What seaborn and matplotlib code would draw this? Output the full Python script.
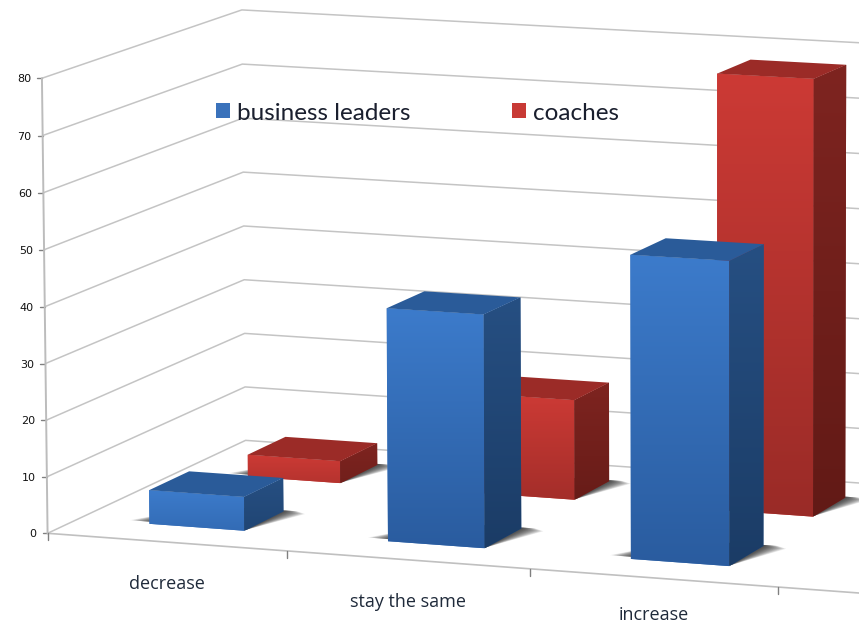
import numpy as np
import matplotlib
matplotlib.use("Agg")
import matplotlib.pyplot as plt
import matplotlib.transforms as mtransforms
from matplotlib.colors import to_rgb
from matplotlib.patches import Polygon
from matplotlib.path import Path
import seaborn as sns

categories = ["decrease", "stay the same", "increase"]
business_leaders = [6, 41, 53]
coaches = [4, 18, 78]
value_ticks = [0, 10, 20, 30, 40, 50, 60, 70, 80]

W, H = 859, 627
BAR_W = 0.4
X_END = 3.5

# camera anchors: (category pos, value, depth) -> picture pixel
anchors_world = [(0, 0, 0), (0, 80, 0), (0, 0, 1), (0, 80, 1), (1, 0, 0),
                 (2, 0, 0), (3, 0, 0), (3, 0, 1), (3, 80, 1), (3, 80, 0)]
anchors_pixel = [(48, 533), (41, 78), (245, 441), (243, 10), (287, 551),
                 (529, 568), (779, 587), (940, 489), (941, 46), (779, 121)]

# depth range per series
z_blue = (0.15, 0.35)
z_red = (0.65, 0.85)

blue = dict(base="#3a72bb", top="#3c7bcb", bottom="#2a5c9f", side_top="#264f82", side_bottom="#1b3c66", cap="#2a5b99")
red = dict(base="#c83a35", top="#cc3a35", bottom="#9a2b27", side_top="#7e2420", side_bottom="#621a16", cap="#9b2b27")


def fit_camera(world, pixel):
    A, b = [], []
    for (x, y, z), (u, v) in zip(world, pixel):
        y = y / 80
        A.append([x, y, z, 1, 0, 0, 0, 0, -u * x, -u * y, -u * z])
        b.append(u)
        A.append([0, 0, 0, 0, x, y, z, 1, -v * x, -v * y, -v * z])
        b.append(v)
    sol = np.linalg.lstsq(np.array(A, float), np.array(b, float), rcond=None)[0]
    return np.append(sol, 1).reshape(3, 4)


cam = fit_camera(anchors_world, anchors_pixel)


def project(x, y, z):
    x, y, z = np.broadcast_arrays(np.asarray(x, float), np.asarray(y, float), np.asarray(z, float))
    pts = np.stack([x, y / 80, z, np.ones_like(x)])
    h = cam @ pts.reshape(4, -1)
    return np.column_stack([h[0] / h[2], h[1] / h[2]])


class PlaneProjection(mtransforms.Transform):
    # sends (bar x, value) of a seaborn bar onto its depth plane
    input_dims = 2
    output_dims = 2
    is_separable = False
    has_inverse = False

    def __init__(self, z):
        super().__init__()
        self.z = z

    def transform_non_affine(self, values):
        values = np.asarray(values, float)
        return project(values[:, 0] + 0.5, values[:, 1], self.z)

    def transform_path_non_affine(self, path):
        return Path(self.transform_non_affine(path.vertices), path.codes)


def gradient(ax, pts, clip_path, clip_trans, c_top, c_bottom, zorder):
    c_top, c_bottom = np.array(to_rgb(c_top)), np.array(to_rgb(c_bottom))
    t = np.linspace(0, 1, 64)[:, None, None]
    img = c_top[None, None, :] * (1 - t) + c_bottom[None, None, :] * t
    ext = (pts[:, 0].min(), pts[:, 0].max(), pts[:, 1].max(), pts[:, 1].min())
    im = ax.imshow(img, extent=ext, aspect="auto", interpolation="bilinear", zorder=zorder)
    im.set_clip_path(clip_path, clip_trans)


def draw_bars(ax, container, zr, style, zbase):
    z0, z1 = zr
    for patch in container:
        x0 = patch.get_x() + 0.5
        x1 = x0 + patch.get_width()
        val = patch.get_height()
        # soft floor shadow, peeks out left of the front and right of the side
        for g in np.linspace(0.1, 0.008, 14):
            floor = project([x0 - g, x1, x1 + g, x1 + g * 0.5, x0, x0], 0,
                            [z0 + 0.02, z0 + 0.01, z1 - 0.01, z1 + 0.01, z1, z0 + 0.12])
            ax.add_patch(Polygon(floor, fc="#000000", ec="none", alpha=0.075, zorder=2))
        mix = min(1.0, 0.35 + val / 40)
        c_low = tuple(np.array(to_rgb(style["top"])) * (1 - mix) + np.array(to_rgb(style["bottom"])) * mix)
        s_low = tuple(np.array(to_rgb(style["side_top"])) * (1 - mix) + np.array(to_rgb(style["side_bottom"])) * mix)
        # front face is the seaborn bar itself
        patch.set_transform(PlaneProjection(z0) + ax.transData)
        patch.set_zorder(zbase)
        patch.set_linewidth(0)
        front = project([x0, x1, x1, x0], [val, val, 0, 0], z0)
        gradient(ax, front, patch.get_path(), patch.get_transform(), style["top"], c_low, zbase + 0.1)
        side = project([x1, x1, x1, x1], [val, val, 0, 0], [z0, z1, z1, z0])
        side_poly = Polygon(side, fc=style["side_top"], ec="none", zorder=zbase + 0.2)
        ax.add_patch(side_poly)
        gradient(ax, side, side_poly.get_path(), side_poly.get_transform(), style["side_top"], s_low, zbase + 0.3)
        cap = project([x0, x1, x1, x0], val, [z0, z0, z1, z1])
        ax.add_patch(Polygon(cap, fc=style["cap"], ec="none", zorder=zbase + 0.4))


sns.set_theme(style="white")
plt.rcParams["font.family"] = ["Lato", "DejaVu Sans"]

fig = plt.figure(figsize=(W / 100, H / 100), dpi=100)
ax = fig.add_axes([0, 0, 1, 1])

sns.barplot(x=categories, y=business_leaders, color=blue["base"], saturation=1, width=BAR_W,
            label="business leaders", ax=ax)
sns.barplot(x=categories, y=coaches, color=red["base"], saturation=1, width=BAR_W,
            label="coaches", ax=ax)

draw_bars(ax, ax.containers[1], z_red, red, 3)
draw_bars(ax, ax.containers[0], z_blue, blue, 5)

# walls and floor grid
for t in value_ticks:
    line = project([0, 0, X_END], t, [0, 1, 1])
    ax.plot(line[:, 0], line[:, 1], color="#c4c4c4", lw=1.1, zorder=1)
    tick = project(0, t, 0)[0]
    ax.plot([tick[0] - 5, tick[0]], [tick[1], tick[1]], color="#808080", lw=1, zorder=1)
    ax.text(tick[0] - 11, tick[1] + 1, str(t), ha="right", va="center", fontsize=8,
            color="#111111", family="DejaVu Sans")

axis_y = project([0, 0], [0, 80], 0)
ax.plot(axis_y[:, 0], axis_y[:, 1], color="#bcbcbc", lw=1.4, zorder=1)
axis_x = project([0, X_END], 0, 0)
ax.plot(axis_x[:, 0], axis_x[:, 1], color="#c0c0c0", lw=1.2, zorder=1)
for i in range(4):
    tick = project(i, 0, 0)[0]
    ax.plot([tick[0], tick[0]], [tick[1], tick[1] + 7], color="#808080", lw=1, zorder=1)

for i, name in enumerate(categories):
    pos = project(i + 0.5, 0, 0)[0]
    # last label sits right at the bottom edge, keep its box inside
    ax.text(pos[0], min(pos[1] + 42, 614.5), name, ha="center", va="center", fontsize=13,
            color="#1f2a3a", family="Open Sans")

ax.legend(loc="center left", bbox_to_anchor=(216, 113), bbox_transform=ax.transData, ncols=2,
          frameon=False, fontsize=17.5, handlelength=0.58, handleheight=0.58, handletextpad=0.29,
          columnspacing=4.16, borderaxespad=0, borderpad=0, labelcolor="#1a1f2e")

ax.set_xlim(0, W)
ax.set_ylim(H, 0)
ax.set_axis_off()

fig.savefig("out.png", dpi=100)
